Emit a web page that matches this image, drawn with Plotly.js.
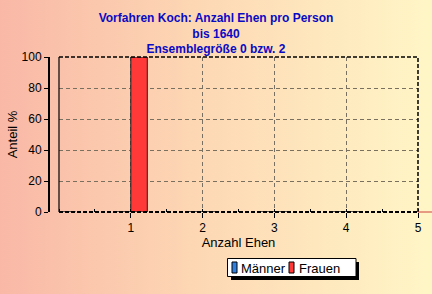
<!DOCTYPE html>
<html><head><meta charset="utf-8">
<script src="https://cdn.plot.ly/plotly-3.0.1.min.js"></script>
<style>
html,body{margin:0;padding:0;width:432px;height:294px;overflow:hidden;}
body{background:linear-gradient(to right,#f9b8a6 0%,#fdd7b4 45%,#fff6c6 100%);}
#chart{width:432px;height:294px;}
</style></head><body>
<div id="chart"></div>
<script>
const categories = [0, 1, 2, 3, 4];
const maenner = [0, 0, 0, 0, 0];
const frauen = [0, 100, 0, 0, 0];
const seriesNames = ["Männer", "Frauen"];
const seriesColors = ["#2f7fe0", "#ff3838"];
const xTicks = [1, 2, 3, 4, 5];
const yTicks = [0, 20, 40, 60, 80, 100];
const titleLines = ["Vorfahren Koch: Anzahl Ehen pro Person", "bis 1640", "Ensemblegröße 0 bzw. 2"];

const FF = "Liberation Sans, Arial, sans-serif";
const W = 432, H = 294;
const px = v => v / W, py = v => 1 - v / H;
const xd = [px(59), px(418)];
const yd = [py(212), py(57)];

const traces = [
  {type: "bar", name: seriesNames[0], x: categories, y: maenner, offset: -0.23, width: 0.23,
   marker: {color: seriesColors[0], line: {color: "#202020", width: 1}}},
  {type: "bar", name: seriesNames[1], x: categories, y: frauen, offset: 0, width: 0.23,
   marker: {color: seriesColors[1], line: {color: "#202020", width: 1}}}
];

// legend drawn manually (box with shadow, narrow swatches)
const legShapes = [
  {type: "rect", xref: "paper", yref: "paper", x0: px(231), x1: px(359), y0: py(280), y1: py(262),
   fillcolor: "#000", line: {width: 0}, layer: "above"},
  {type: "rect", xref: "paper", yref: "paper", x0: px(227.5), x1: px(356), y0: py(276.5), y1: py(258.5),
   fillcolor: "#fff", line: {color: "#000", width: 1}, layer: "above"},
  {type: "rect", xref: "paper", yref: "paper", x0: px(232), x1: px(237), y0: py(273), y1: py(262),
   fillcolor: seriesColors[0], line: {color: "#000", width: 1}, layer: "above"},
  {type: "rect", xref: "paper", yref: "paper", x0: px(289), x1: px(294), y0: py(273), y1: py(262),
   fillcolor: seriesColors[1], line: {color: "#000", width: 1}, layer: "above"}
];
const legAnn = [
  {xref: "paper", yref: "paper", x: px(239), y: py(268), xanchor: "left", yanchor: "middle",
   text: seriesNames[0], showarrow: false, font: {family: FF, size: 13, color: "#000"}},
  {xref: "paper", yref: "paper", x: px(297), y: py(268), xanchor: "left", yanchor: "middle",
   text: seriesNames[1], showarrow: false, font: {family: FF, size: 13, color: "#000"}}
];

const layout = {
  width: W, height: H,
  margin: {l: 0, r: 0, t: 0, b: 0},
  paper_bgcolor: "rgba(0,0,0,0)", plot_bgcolor: "rgba(0,0,0,0)",
  font: {family: FF, size: 12, color: "#000"},
  title: {text: titleLines.join("<br>"), x: 0.5, xanchor: "center", y: py(22), yanchor: "top",
          font: {family: FF, size: 12, color: "#0a0ac4", weight: "bold"}},
  showlegend: false,
  barmode: "overlay",
  xaxis: {domain: xd, range: [0, 5], tickvals: xTicks, ticktext: xTicks.map(String),
          showgrid: true, gridcolor: "#7a7060", griddash: "4px,3px", gridwidth: 1,
          ticks: "outside", ticklen: 5, tickcolor: "#000", showline: false, zeroline: false,
          minor: {dtick: 0.5, tick0: 0.5, ticks: "inside", ticklen: 3, tickcolor: "#000", showgrid: false},
          title: {text: "Anzahl Ehen", standoff: 2, font: {size: 13}}, tickfont: {size: 12}},
  yaxis: {domain: yd, range: [0, 100], tickvals: yTicks, anchor: "free", position: px(49),
          showgrid: true, gridcolor: "#7a7060", griddash: "4px,3px", gridwidth: 1,
          ticks: "outside", ticklen: 4, tickcolor: "#000", showline: true, linecolor: "#000", linewidth: 2,
          zeroline: false,
          title: {text: "Anteil %", standoff: 0, font: {size: 13}}, tickfont: {size: 12}},
  shapes: [
    {type: "line", xref: "paper", yref: "paper", x0: xd[0], x1: xd[1], y0: yd[1], y1: yd[1],
     line: {color: "#000", width: 1.5, dash: "4px,2px"}, layer: "above"},
    {type: "line", xref: "paper", yref: "paper", x0: xd[1], x1: xd[1], y0: yd[0], y1: yd[1],
     line: {color: "#000", width: 1.5, dash: "4px,2px"}, layer: "above"},
    {type: "line", xref: "paper", yref: "paper", x0: xd[0], x1: xd[0], y0: yd[0], y1: yd[1],
     line: {color: "#000", width: 1.2}, layer: "above"},
    {type: "line", xref: "paper", yref: "paper", x0: xd[0], x1: xd[1], y0: yd[0], y1: yd[0],
     line: {color: "#000", width: 2, dash: "4px,2px"}, layer: "above"},
    {type: "line", xref: "paper", yref: "paper", x0: xd[1], x1: 1, y0: yd[0], y1: yd[0],
     line: {color: "#d04040", width: 1}, layer: "above"}
  ].concat(legShapes),
  annotations: legAnn
};

Plotly.newPlot("chart", traces, layout, {displayModeBar: false, staticPlot: true});
</script>
</body></html>
